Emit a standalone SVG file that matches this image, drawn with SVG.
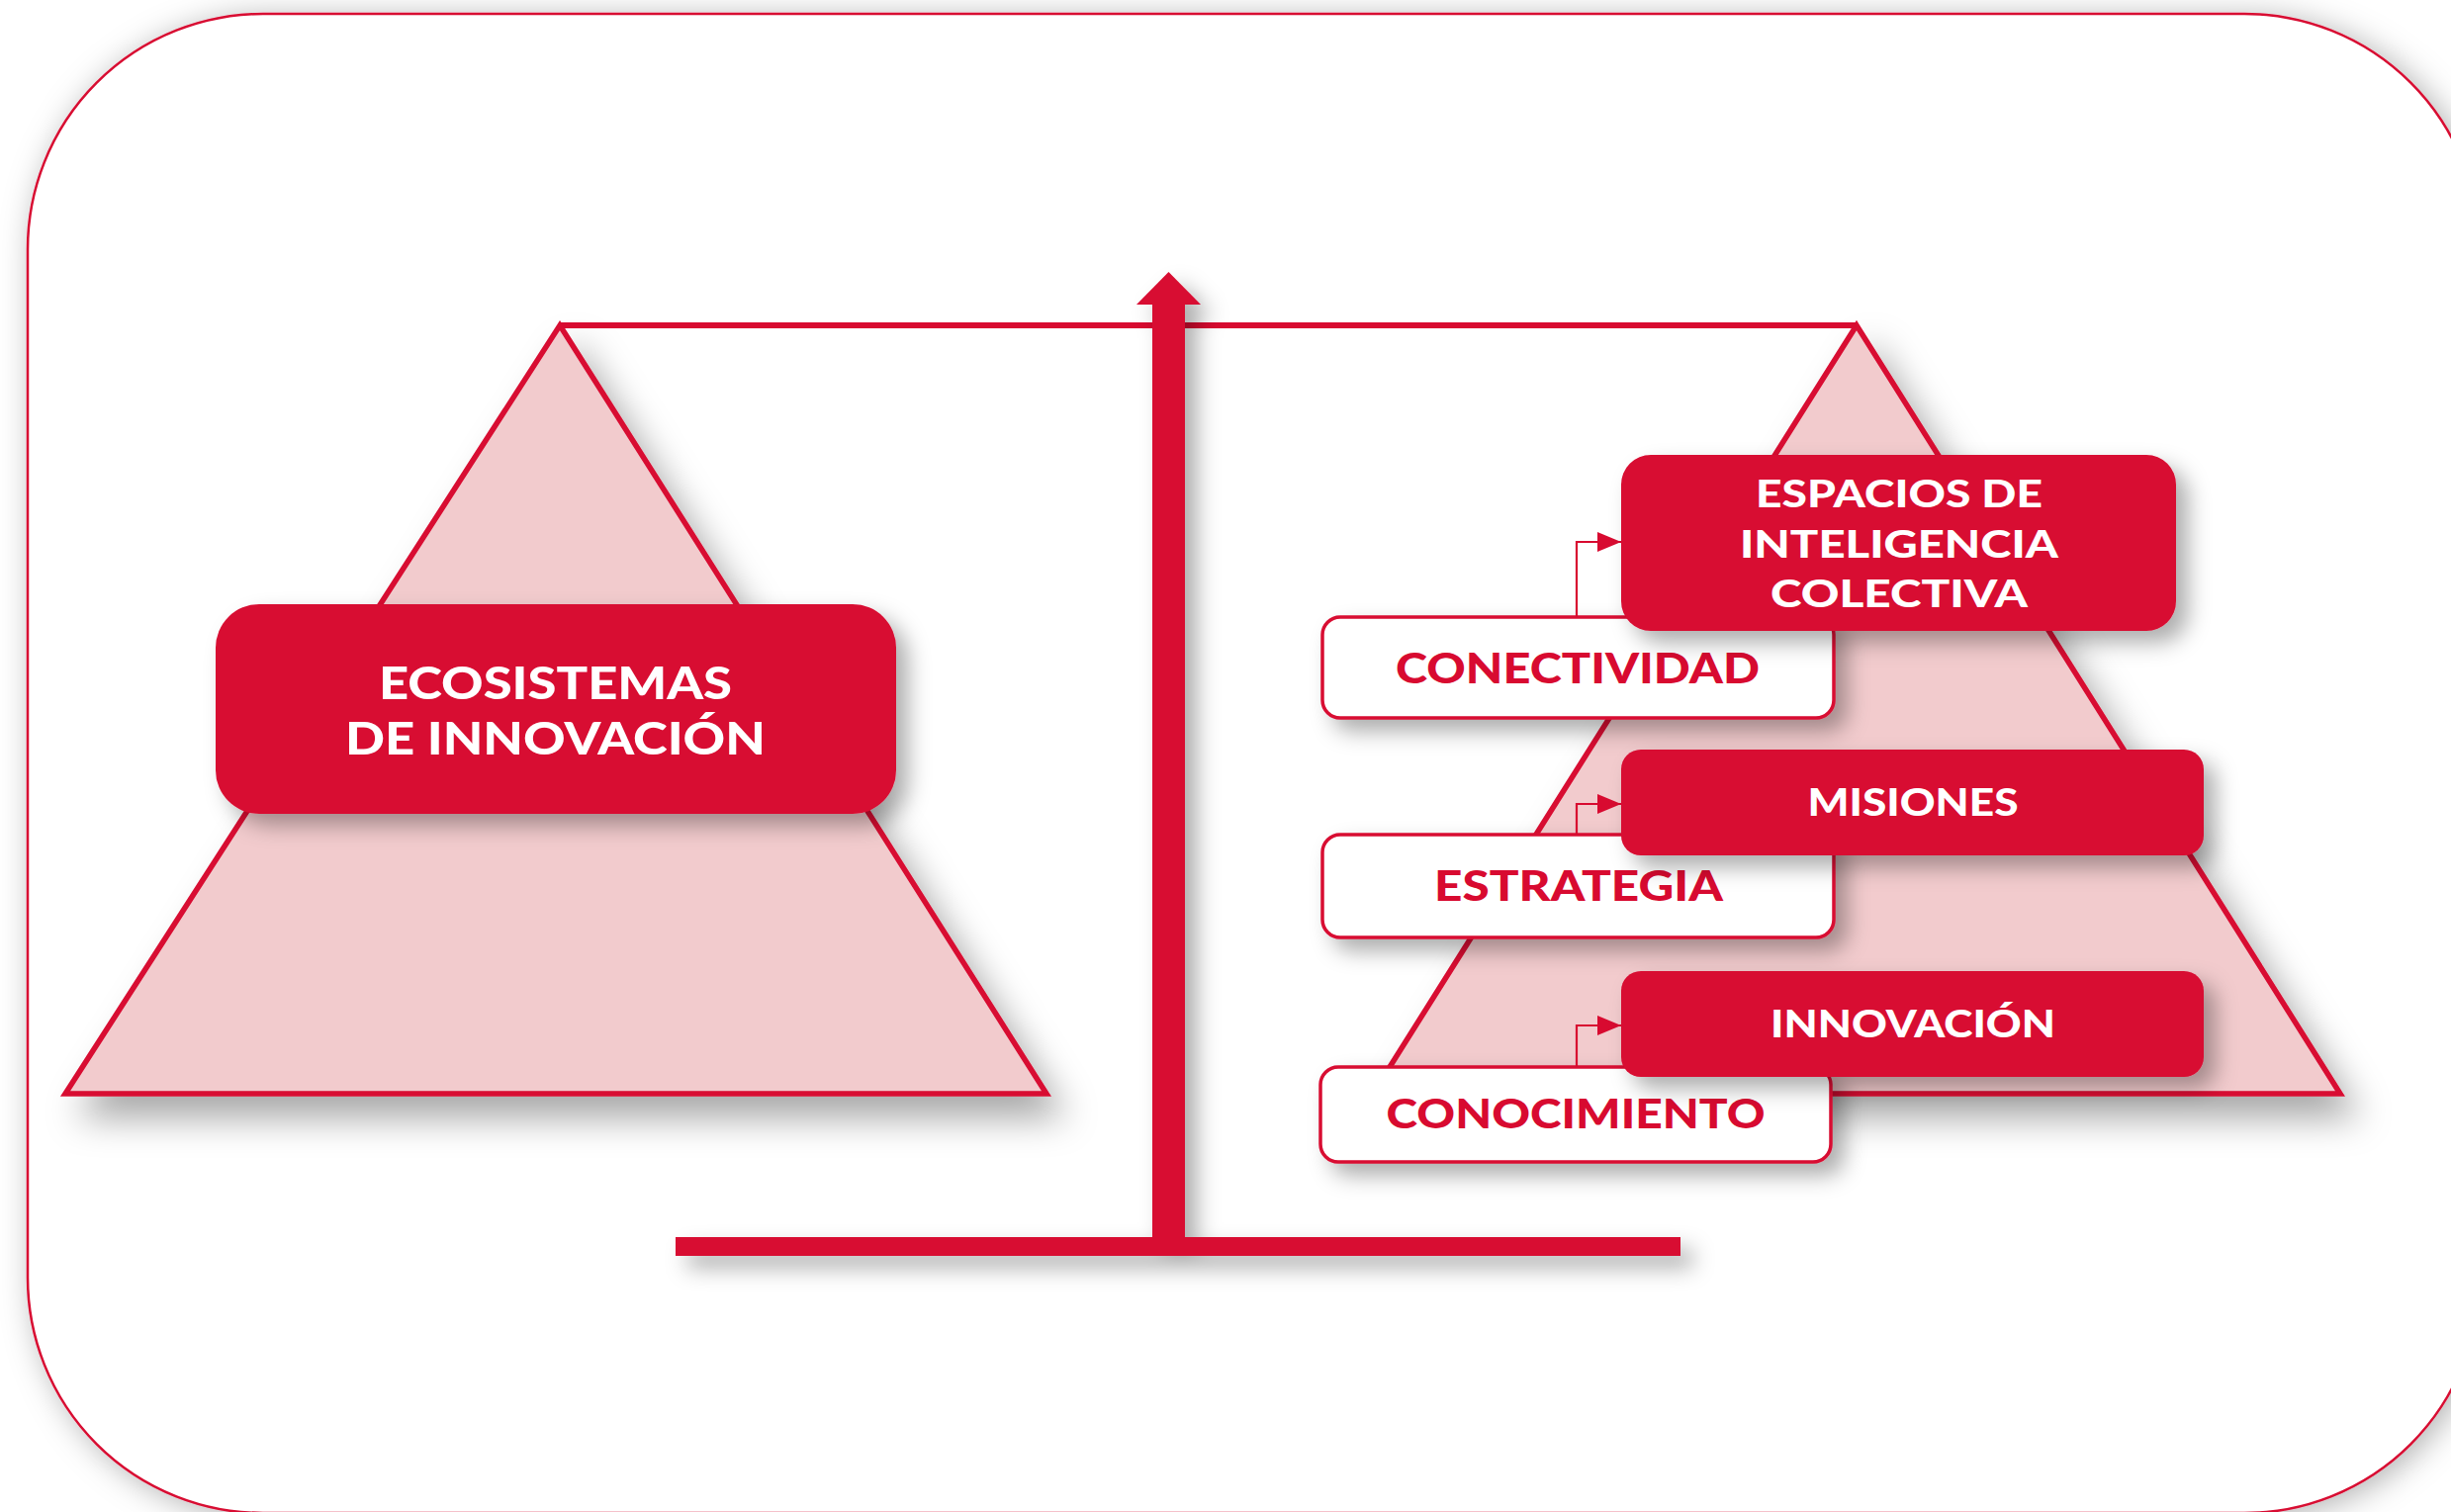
<svg xmlns="http://www.w3.org/2000/svg" width="2478" height="1529" viewBox="0 0 2478 1529">
  <defs>
    <style>
      .red { fill: #D80A30; }
      .pyr { fill: #F2CBCD; stroke: #D80A30; stroke-width: 5.5; stroke-linejoin: miter; }
      .redbox { fill: #D80A30; }
      .whitebox { fill: #FFFFFF; stroke: #D80A30; stroke-width: 3.5; }
      .wt { fill: #FFFFFF; font-family: Lato, "Liberation Sans", sans-serif; font-weight: 900; text-anchor: middle; }
      .rt { fill: #D80A30; font-family: Lato, "Liberation Sans", sans-serif; font-weight: 900; text-anchor: middle; }
      .conn { fill: none; stroke: #D80A30; stroke-width: 2.2; }
    </style>
    <filter id="frameShadow" x="-5%" y="-5%" width="110%" height="110%">
      <feDropShadow dx="6" dy="4" stdDeviation="16" flood-color="#000" flood-opacity="0.3"/>
    </filter>
    <filter id="shadow" x="-20%" y="-20%" width="140%" height="150%">
      <feDropShadow dx="16" dy="22" stdDeviation="18" flood-color="#000" flood-opacity="0.34"/>
    </filter>
    <filter id="shadowSm" x="-20%" y="-20%" width="140%" height="160%">
      <feDropShadow dx="12" dy="12" stdDeviation="11" flood-color="#000" flood-opacity="0.32"/>
    </filter>
    <marker id="arrow" markerUnits="userSpaceOnUse" markerWidth="24" markerHeight="20" refX="24" refY="10" orient="auto">
      <path d="M0,0 L24,10 L0,20 Z" fill="#D80A30"/>
    </marker>
  </defs>

  <rect x="0" y="0" width="2478" height="1529" fill="#FFFFFF"/>

  <g id="frame">
    <rect x="28" y="14" width="2479" height="1516" rx="238" ry="238" fill="#FFFFFF" stroke="#D80A30" stroke-width="2.5" filter="url(#frameShadow)"/>
  </g>

  <g id="pyramid-left">
    <polygon class="pyr" points="566,329 1058,1106 66,1106" filter="url(#shadow)"/>
  </g>
  <g id="pyramid-right">
    <polygon class="pyr" points="1877,329 2366,1106 1388,1106" filter="url(#shadow)"/>
  </g>

  <g id="scale">
    <rect class="red" x="566" y="326" width="1311" height="6"/>
    <g filter="url(#shadowSm)">
      <rect class="red" x="1165" y="305" width="33" height="958"/>
      <polygon class="red" points="1181.5,275 1214,308 1149,308"/>
      <rect class="red" x="683" y="1251" width="1016" height="19"/>
    </g>
  </g>

  <g id="ecosistemas">
    <rect class="redbox" x="218" y="611" width="688" height="212" rx="44" ry="44" filter="url(#shadowSm)"/>
    <text class="wt" x="561.5" y="707" font-size="46" textLength="357" lengthAdjust="spacingAndGlyphs">ECOSISTEMAS</text>
    <text class="wt" x="561.5" y="763" font-size="46" textLength="425" lengthAdjust="spacingAndGlyphs">DE INNOVACIÓN</text>
  </g>

  <g id="conectividad">
    <rect class="whitebox" x="1337" y="624" width="517" height="102" rx="18" ry="18" filter="url(#shadowSm)"/>
    <text class="rt" x="1595" y="691" font-size="42" textLength="368" lengthAdjust="spacingAndGlyphs">CONECTIVIDAD</text>
  </g>
  <g id="estrategia">
    <rect class="whitebox" x="1337" y="844" width="517" height="104" rx="18" ry="18" filter="url(#shadowSm)"/>
    <text class="rt" x="1596" y="911" font-size="42" textLength="292" lengthAdjust="spacingAndGlyphs">ESTRATEGIA</text>
  </g>
  <g id="conocimiento">
    <rect class="whitebox" x="1335" y="1079" width="516" height="96" rx="18" ry="18" filter="url(#shadowSm)"/>
    <text class="rt" x="1593" y="1141" font-size="41" textLength="383" lengthAdjust="spacingAndGlyphs">CONOCIMIENTO</text>
  </g>

  <g id="connectors">
    <path class="conn" d="M1594,624 V548 H1639" marker-end="url(#arrow)"/>
    <path class="conn" d="M1594,844 V813 H1639" marker-end="url(#arrow)"/>
    <path class="conn" d="M1594,1079 V1037 H1639" marker-end="url(#arrow)"/>
  </g>

  <g id="espacios">
    <rect class="redbox" x="1639" y="460" width="561" height="178" rx="30" ry="30" filter="url(#shadowSm)"/>
    <text class="wt" x="1920" y="513" font-size="37" textLength="290" lengthAdjust="spacingAndGlyphs">ESPACIOS DE</text>
    <text class="wt" x="1920" y="564" font-size="37" textLength="322" lengthAdjust="spacingAndGlyphs">INTELIGENCIA</text>
    <text class="wt" x="1920" y="614" font-size="37" textLength="260" lengthAdjust="spacingAndGlyphs">COLECTIVA</text>
  </g>
  <g id="misiones">
    <rect class="redbox" x="1639" y="758" width="589" height="107" rx="20" ry="20" filter="url(#shadowSm)"/>
    <text class="wt" x="1934" y="825" font-size="38" textLength="213" lengthAdjust="spacingAndGlyphs">MISIONES</text>
  </g>
  <g id="innovacion">
    <rect class="redbox" x="1639" y="982" width="589" height="107" rx="20" ry="20" filter="url(#shadowSm)"/>
    <text class="wt" x="1934" y="1049" font-size="38" textLength="288" lengthAdjust="spacingAndGlyphs">INNOVACIÓN</text>
  </g>
</svg>
